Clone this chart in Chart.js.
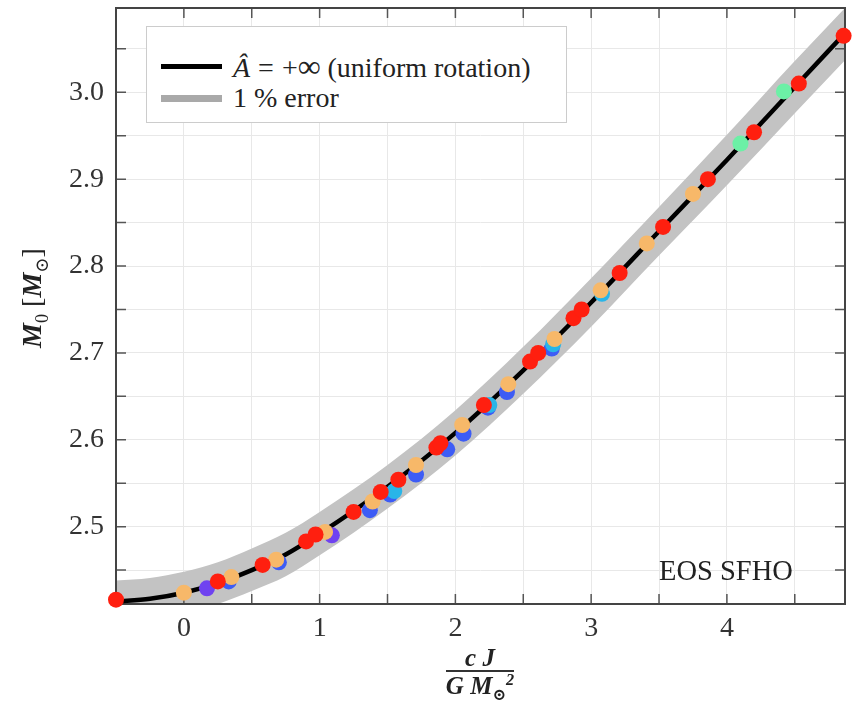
<!DOCTYPE html>
<html>
<head>
<meta charset="utf-8">
<script src="https://cdn.jsdelivr.net/npm/chart.js@4.4.1/dist/chart.umd.min.js"></script>
<style>
  body { margin: 0; background: #fff; }
  #wrap { position: relative; width: 855px; height: 701px; font-family: 'Liberation Serif', 'DejaVu Serif', serif; color: #222; }
  #wrap canvas { position: absolute; left: 0; top: 0; }
  .legend { position: absolute; left: 146px; top: 26px; width: 421px; height: 97px; box-sizing: border-box;
            background: #fff; border: 1px solid #cccccc; }
  .legend .row { position: absolute; left: 0; height: 28px; line-height: 28px; font-size: 28px; white-space: nowrap; }
  .legend .swatch { position: absolute; left: 14px; width: 61px; }
  .legend .txt { position: absolute; left: 86px; top: 0; }
  .legend .rel { display: inline-block; margin: 0 8px; }
  .legend .inf { font-size: 32px; }
  #eos { position: absolute; left: 659px; top: 557px; font-size: 28.5px; line-height: 28px; white-space: nowrap; }
  #ylab { position: absolute; left: -43px; top: 282px; width: 150px; height: 32px; line-height: 32px; text-align: center;
          font-size: 28px; transform: rotate(-90deg); white-space: nowrap; }
  #xlab { position: absolute; left: 380px; top: 645px; width: 200px; text-align: center; }
  #xlab .frac { display: inline-block; font-size: 25px; font-weight: bold; font-style: italic; }
  #xlab .num { line-height: 25px; border-bottom: 2px solid #333; padding: 0 3px; }
  #xlab .den { line-height: 27px; }
  sub, sup { font-size: 65%; line-height: 0; }
</style>
</head>
<body>
<div id="wrap">
  <canvas id="chart" width="855" height="701"></canvas>
  <div class="legend">
    <div class="row" style="top:25px">
      <div class="swatch" style="top:12px;height:5px;background:#000"></div>
      <div class="txt"><i>Â</i><span class="rel">=</span>+<span class="inf">∞</span> (uniform rotation)</div>
    </div>
    <div class="row" style="top:57px">
      <div class="swatch" style="top:11px;height:7px;background:#a9a9a9"></div>
      <div class="txt">1 % error</div>
    </div>
  </div>
  <div id="eos">EOS SFHO</div>
  <div id="ylab"><b><i>M</i></b><sub>0</sub> [<b><i>M</i></b><sub>⊙</sub>]</div>
  <div id="xlab"><div class="frac"><div class="num">c J</div><div class="den">G M<sub>⊙</sub><sup>2</sup></div></div></div>
</div>
<script>
// uniform rotation sequence
const curveX = [-0.5, -0.25, 0, 0.25, 0.5, 0.75, 1, 1.5, 2, 2.5, 3, 3.5, 4, 4.5, 4.87];
const curveM = [2.414, 2.417, 2.424, 2.435, 2.450, 2.468, 2.492, 2.546, 2.608, 2.680, 2.758, 2.840, 2.922, 3.006, 3.068];
const bandUpper = [2.438, 2.441, 2.448, 2.459, 2.475, 2.493, 2.517, 2.571, 2.634, 2.707, 2.786, 2.868, 2.951, 3.036, 3.097];
const bandLower = [2.390, 2.393, 2.400, 2.411, 2.426, 2.443, 2.467, 2.521, 2.582, 2.653, 2.730, 2.812, 2.893, 2.976, 3.037];

// differentially rotating models, one colour per series
const redX = [-0.5, 0.25, 0.58, 0.9, 0.97, 1.25, 1.45, 1.58, 1.86, 1.89, 2.21, 2.55, 2.61, 2.87, 2.93, 3.21, 3.53, 3.86, 4.2, 4.53, 4.86];
const redM = [2.416, 2.437, 2.456, 2.483, 2.491, 2.517, 2.54, 2.554, 2.591, 2.596, 2.640, 2.69, 2.70, 2.74, 2.75, 2.792, 2.845, 2.9, 2.954, 3.01, 3.065];
const orangeX = [0, 0.35, 0.68, 1.04, 1.39, 1.71, 2.05, 2.39, 2.73, 3.07, 3.41, 3.75];
const orangeM = [2.424, 2.442, 2.462, 2.494, 2.529, 2.571, 2.617, 2.664, 2.716, 2.772, 2.826, 2.883];
const blueX = [0.33, 0.7, 1.37, 1.52, 1.71, 1.94, 2.06, 2.24, 2.38, 2.71];
const blueM = [2.437, 2.459, 2.519, 2.537, 2.56, 2.589, 2.607, 2.637, 2.655, 2.705];
const purpleX = [0.17, 1.09];
const purpleM = [2.429, 2.49];
const cyanX = [1.55, 2.25, 2.72, 3.08];
const cyanM = [2.541, 2.64, 2.71, 2.768];
const greenX = [4.10, 4.42];
const greenM = [2.941, 3.001];

const xTicksStep = 0.5;
const yTicksStep = 0.05;

function pts(xs, ys) {
    return xs.map((x, i) => ({ x: x, y: ys[i] }));
}

function dots(label, xs, ys, color, order) {
    return {
        label: label,
        data: pts(xs, ys),
        showLine: false,
        pointRadius: 8,
        pointBorderWidth: 0,
        pointBackgroundColor: color,
        borderColor: color,
        order: order,
        clip: false,
    };
}

// frame + inward tick marks on all four sides
const frameTicks = {
    id: 'frameTicks',
    afterDatasetDraw(chart, args) {
        if (args.index !== 1) return;
        const { ctx, chartArea: a, scales: { x, y } } = chart;
        ctx.save();
        ctx.strokeStyle = '#555';
        ctx.lineWidth = 1.5;
        ctx.beginPath();
        x.ticks.forEach(t => {
            const px = x.getPixelForValue(t.value);
            if (px <= a.left + 1 || px >= a.right - 1) return;
            ctx.moveTo(px, a.bottom); ctx.lineTo(px, a.bottom - 10);
            ctx.moveTo(px, a.top); ctx.lineTo(px, a.top + 10);
        });
        y.ticks.forEach(t => {
            const py = y.getPixelForValue(t.value);
            if (py <= a.top + 1 || py >= a.bottom - 1) return;
            ctx.moveTo(a.left, py); ctx.lineTo(a.left + 10, py);
            ctx.moveTo(a.right, py); ctx.lineTo(a.right - 10, py);
        });
        ctx.stroke();
        ctx.strokeStyle = '#444';
        ctx.lineWidth = 2;
        ctx.strokeRect(a.left, a.top, a.width, a.height);
        ctx.restore();
    },
};

const tickFont = { family: "'Liberation Serif', serif", size: 28 };

new Chart(document.getElementById('chart'), {
    type: 'line',
    data: {
        datasets: [
            {
                label: '1 % error',
                data: pts(curveX, bandUpper),
                borderWidth: 0,
                pointRadius: 0,
                cubicInterpolationMode: 'monotone',
                fill: '+1',
                backgroundColor: '#c3c3c3',
                order: 10,
            },
            {
                label: 'lower',
                data: pts(curveX, bandLower),
                borderWidth: 0,
                pointRadius: 0,
                cubicInterpolationMode: 'monotone',
                fill: false,
                order: 9,
            },
            {
                label: 'uniform rotation',
                data: pts(curveX, curveM),
                borderColor: '#000',
                borderWidth: 4.5,
                pointRadius: 0,
                cubicInterpolationMode: 'monotone',
                fill: false,
                order: 8,
            },
            dots('blue', blueX, blueM, '#3d5cf5', 7),
            dots('purple', purpleX, purpleM, '#6f42f0', 7),
            dots('cyan', cyanX, cyanM, '#29b5e8', 6),
            dots('orange', orangeX, orangeM, '#f7b869', 4),
            dots('green', greenX, greenM, '#6cf0a6', 3),
            dots('red', redX, redM, '#ff1f0f', 1),
        ],
    },
    options: {
        responsive: false,
        animation: false,
        layout: { padding: { top: 8, right: 10, left: 0, bottom: 0 } },
        plugins: {
            legend: { display: false },
            tooltip: { enabled: false },
        },
        scales: {
            x: {
                type: 'linear',
                min: -0.5,
                max: 4.87,
                grid: { color: '#e8e8e8', lineWidth: 1, drawTicks: false },
                border: { display: false },
                ticks: {
                    stepSize: xTicksStep,
                    includeBounds: false,
                    autoSkip: false,
                    maxRotation: 0,
                    padding: 8,
                    color: '#333',
                    font: tickFont,
                    callback: v => Math.abs(v - Math.round(v)) < 1e-6 ? String(Math.round(v)) : '',
                },
                afterFit: s => { s.height = 97; s.paddingLeft = 0; s.paddingRight = 0; },
            },
            y: {
                min: 2.411,
                max: 3.097,
                grid: { color: '#e8e8e8', lineWidth: 1, drawTicks: false },
                border: { display: false },
                ticks: {
                    stepSize: yTicksStep,
                    includeBounds: false,
                    autoSkip: false,
                    padding: 12,
                    color: '#333',
                    font: tickFont,
                    callback: v => Math.abs(v * 10 - Math.round(v * 10)) < 1e-6 ? v.toFixed(1) : '',
                },
                afterFit: s => { s.width = 116; s.paddingTop = 0; s.paddingBottom = 0; },
            },
        },
    },
    plugins: [frameTicks],
});
</script>
</body>
</html>
